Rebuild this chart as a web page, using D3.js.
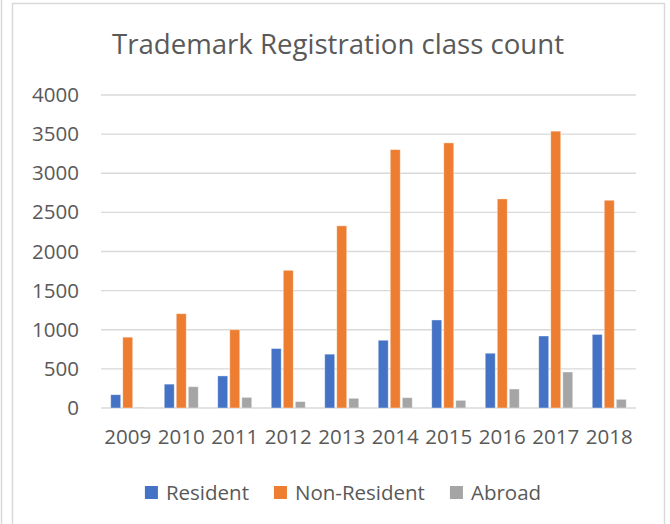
<!DOCTYPE html>
<html lang="en">
  <head>
    <title>Trademark Registration class count</title>
    <meta charset="utf-8" />
    <script src="https://d3js.org/d3.v7.min.js"></script>
    <style>
      body { margin: 0; background: #ffffff; }
      text { font-family: "Open Sans", sans-serif; fill: #595959; }
    </style>
  </head>
  <body>
    <svg width="670" height="524" xmlns="http://www.w3.org/2000/svg" id="target"></svg>
    <script>
        const years = ["2009", "2010", "2011", "2012", "2013", "2014", "2015", "2016", "2017", "2018"];
        const seriesNames = ["Resident", "Non-Resident", "Abroad"];
        const resident = [170, 305, 410, 760, 688, 866, 1125, 700, 920, 940];
        const nonResident = [905, 1205, 1000, 1760, 2328, 3302, 3388, 2672, 3538, 2655];
        const abroad = [10, 272, 136, 82, 124, 132, 98, 243, 460, 111];
        const yTicks = [0, 500, 1000, 1500, 2000, 2500, 3000, 3500, 4000];
        const colors = ["#4472C4", "#ED7D31", "#A5A5A5"];

        const rows = years.map((y, i) => ({
          year: y,
          values: [resident[i], nonResident[i], abroad[i]]
        }));

        const plot = { left: 101, right: 636, top: 95, bottom: 408 };
        const svg = d3.select("#target");

        // chart frame
        svg.append("line")
          .attr("x1", 1.5).attr("x2", 1.5)
          .attr("y1", 0).attr("y2", 524)
          .attr("stroke", "#D9D9D9").attr("stroke-width", 1.5);
        svg.append("rect")
          .attr("x", 12.5).attr("y", 3.5)
          .attr("width", 652).attr("height", 540)
          .attr("fill", "#ffffff")
          .attr("stroke", "#D9D9D9").attr("stroke-width", 1.5);

        svg.append("text")
          .attr("x", 338).attr("y", 54)
          .attr("text-anchor", "middle")
          .style("font-size", "27.6px")
          .text("Trademark Registration class count");

        const x0 = d3.scaleBand()
          .domain(years)
          .range([plot.left, plot.right])
          .paddingInner(0.364)
          .paddingOuter(0.182);
        const x1 = d3.scaleBand()
          .domain(seriesNames)
          .range([0, x0.bandwidth()])
          .paddingInner(0.17);
        const y = d3.scaleLinear()
          .domain([0, 4000])
          .range([plot.bottom, plot.top]);

        // gridlines
        svg.append("g")
          .selectAll("line.grid")
          .data(yTicks)
          .enter()
          .append("line")
          .attr("class", "grid")
          .attr("x1", plot.left).attr("x2", plot.right)
          .attr("y1", d => y(d)).attr("y2", d => y(d))
          .attr("stroke", "#D9D9D9").attr("stroke-width", 1.3);

        // y axis labels
        const yAxis = svg.append("g")
          .attr("transform", "translate(" + (plot.left - 10) + ",0)")
          .call(d3.axisLeft(y).tickValues(yTicks).tickFormat(d3.format("d")).tickSize(0).tickPadding(12));
        yAxis.select(".domain").remove();
        yAxis.selectAll("text")
          .style("font-size", "20.5px")
          .attr("fill", "#595959");

        // x axis labels
        const xAxis = svg.append("g")
          .attr("transform", "translate(0," + plot.bottom + ")")
          .call(d3.axisBottom(x0).tickSize(0).tickPadding(21));
        xAxis.select(".domain").remove();
        xAxis.selectAll("text")
          .style("font-size", "20.5px")
          .attr("fill", "#595959");

        // bars
        const groups = svg.append("g")
          .selectAll("g.year")
          .data(rows)
          .enter()
          .append("g")
          .attr("class", "year")
          .attr("transform", d => "translate(" + x0(d.year) + ",0)");
        groups.selectAll("rect")
          .data(d => d.values.map((v, i) => ({ name: seriesNames[i], value: v, color: colors[i] })))
          .enter()
          .append("rect")
          .attr("x", d => x1(d.name))
          .attr("y", d => y(d.value))
          .attr("width", x1.bandwidth())
          .attr("height", d => y(0) - y(d.value))
          .attr("fill", d => d.color)
          .attr("stroke", "#ffffff")
          .attr("stroke-opacity", 0.5)
          .attr("stroke-width", 0.8);

        // legend
        const legend = svg.append("g").attr("transform", "translate(0,486)");
        const items = legend.selectAll("g.item")
          .data(seriesNames)
          .enter()
          .append("g")
          .attr("class", "item");
        items.append("rect")
          .attr("width", 13).attr("height", 13)
          .attr("fill", (d, i) => colors[i]);
        items.append("text")
          .attr("x", 21).attr("y", 13.5)
          .style("font-size", "20.5px")
          .text(d => d);
        let offs = [];
        let total = 0;
        items.each(function () {
          const w = 21 + d3.select(this).select("text").node().getComputedTextLength();
          offs.push(total);
          total += w + 25;
        });
        total -= 25;
        const start = 343 - total / 2;
        items.attr("transform", (d, i) => "translate(" + (start + offs[i]) + ",0)");
    </script>
  </body>
</html>
